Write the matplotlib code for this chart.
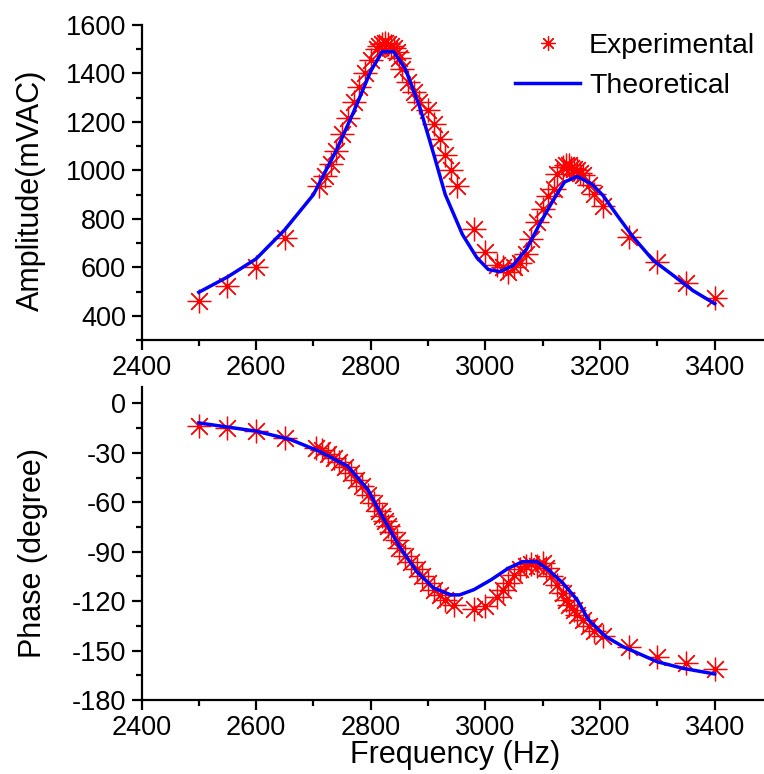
import matplotlib
matplotlib.use("Agg")
import matplotlib.pyplot as plt
from matplotlib.ticker import MultipleLocator, FixedLocator

plt.rcParams['font.family'] = ['Liberation Sans', 'DejaVu Sans']
plt.rcParams['axes.unicode_minus'] = False

# ---------------- data ----------------
amp_freq = [2500, 2550, 2600, 2650, 2710, 2720, 2730, 2740, 2750, 2760, 2770, 2780,
            2790, 2800, 2810, 2815, 2820, 2825, 2830, 2835, 2840, 2845, 2850, 2855,
            2865, 2875, 2885, 2900, 2910, 2920, 2930, 2940, 2950, 2980, 3000, 3020,
            3030, 3040, 3050, 3060, 3070, 3080, 3090, 3100, 3110, 3120, 3125, 3135,
            3140, 3145, 3150, 3155, 3160, 3165, 3170, 3180, 3190, 3205, 3250, 3300,
            3350, 3400]
amp_exp = [460, 521, 600, 720, 935, 975, 1025, 1080, 1152, 1217, 1283, 1345,
           1403, 1455, 1500, 1515, 1522, 1525, 1520, 1515, 1505, 1490, 1462, 1417,
           1365, 1324, 1283, 1248, 1193, 1131, 1064, 1002, 935, 760, 665, 611,
           600, 580, 600, 617, 655, 717, 786, 842, 893, 924, 986, 1014,
           1021, 1021, 1010, 1007, 1000, 990, 979, 938, 904, 851, 727, 621,
           535, 473]

amp_theo_freq = [2500, 2550, 2600, 2650, 2700, 2740, 2770, 2800, 2820, 2840, 2860,
                 2885, 2910, 2930, 2960, 2985, 3005, 3025, 3048, 3072, 3095, 3118,
                 3138, 3160, 3185, 3205, 3230, 3258, 3293, 3328, 3362, 3400]
amp_theo = [497, 560, 635, 755, 900, 1083, 1241, 1410, 1490, 1490, 1420,
            1265, 1065, 900, 735, 640, 591, 582, 607, 676, 780, 876,
            952, 975, 945, 897, 814, 724, 628, 566, 504, 450]

phase_freq = [2500, 2550, 2600, 2650, 2705, 2715, 2725, 2735, 2745, 2755, 2765, 2775,
              2785, 2795, 2805, 2815, 2820, 2825, 2830, 2835, 2845, 2850, 2860, 2870,
              2880, 2890, 2900, 2910, 2920, 2930, 2945, 2980, 3000, 3020, 3030, 3040,
              3050, 3060, 3070, 3080, 3090, 3100, 3105, 3115, 3125, 3135, 3140, 3145,
              3155, 3160, 3170, 3180, 3190, 3205, 3250, 3300, 3350, 3400]
phase_exp = [-13.4, -14.8, -16.8, -20.9, -27.0, -28.4, -30.4, -33.0, -35.7, -38.5, -42.2, -46.2,
             -50.3, -55.3, -60.4, -65.5, -68.5, -71.6, -74.6, -78.3, -82.7, -87.8, -92.5, -96.5,
             -100.5, -105.0, -109.0, -113.0, -116.2, -119.2, -122.5, -124.8, -122.9, -117.6, -113.0, -108.7,
             -104.0, -100.6, -98.5, -97.3, -98.9, -96.9, -99.9, -105.0, -110.0, -115.1, -119.2, -122.3,
             -125.3, -128.3, -131.4, -135.0, -137.9, -141.1, -148.0, -153.7, -157.7, -161.4]

phase_theo_freq = [2500, 2600, 2660, 2710, 2760, 2795, 2820, 2850, 2880, 2910, 2940,
                   2955, 2980, 3010, 3040, 3065, 3090, 3110, 3135, 3160, 3180, 3210,
                   3240, 3300, 3345, 3400]
phase_theo = [-11.8, -16.8, -21.9, -29.0, -38.1, -52.3, -68.5, -86.8, -102.0, -112.1, -116.2,
              -116.2, -113.0, -107.0, -100.0, -96.0, -96.0, -101.0, -109.0, -119.2, -131.4, -141.5,
              -147.6, -156.8, -160.8, -164.2]

x_major = [2400, 2600, 2800, 3000, 3200, 3400]
amp_major = [400, 600, 800, 1000, 1200, 1400, 1600]
phase_major = [0, -30, -60, -90, -120, -150, -180]

# ---------------- figure ----------------
W, H = 764, 774
fig = plt.figure(figsize=(W / 100, H / 100), dpi=100)

x0 = 141.5
x1 = 772.0
ax1 = fig.add_axes([x0 / W, 1 - 340 / H, (x1 - x0) / W, (340 - 25) / H])
ax2 = fig.add_axes([x0 / W, 1 - 700 / H, (x1 - x0) / W, (700 - 387) / H])

marker = (8, 2, 0)
tick_fs = 19.5
label_fs = 22
ms = 17
mew = 0.9

for ax in (ax1, ax2):
    for s in ('top', 'right'):
        ax.spines[s].set_visible(False)
    for s in ('left', 'bottom'):
        ax.spines[s].set_linewidth(1.6)
    ax.set_xlim(2400, 3500)
    ax.xaxis.set_major_locator(FixedLocator(x_major))
    ax.xaxis.set_minor_locator(MultipleLocator(100))
    ax.tick_params(which='major', direction='out', length=7, width=1.6,
                   labelsize=tick_fs, pad=4)
    ax.tick_params(which='minor', direction='out', length=4, width=1.6)

# top panel
ax1.plot(amp_freq, amp_exp, linestyle='none', marker=marker, markersize=ms,
         markeredgewidth=mew, color='#ff0000', label='Experimental', zorder=2)
ax1.plot(amp_theo_freq, amp_theo, color='#0000ff', linewidth=2.5,
         label='Theoretical', zorder=3)
ax1.set_ylim(300, 1600)
ax1.yaxis.set_major_locator(FixedLocator(amp_major))
ax1.yaxis.set_minor_locator(MultipleLocator(100))
ax1.set_ylabel('Amplitude(mVAC)', fontsize=label_fs, va='center')
ax1.yaxis.set_label_coords(-0.175, 0.476)

leg = ax1.legend(loc='upper left', bbox_to_anchor=(515 / W, 1 - 33 / H),
                 bbox_transform=fig.transFigure, frameon=False, fontsize=20.5,
                 handlelength=2.3, handletextpad=0.3, labelspacing=0.5,
                 borderpad=0, borderaxespad=0, markerscale=0.6)

# bottom panel
ax2.plot(phase_freq, phase_exp, linestyle='none', marker=marker, markersize=ms,
         markeredgewidth=mew, color='#ff0000', zorder=2)
ax2.plot(phase_theo_freq, phase_theo, color='#0000ff', linewidth=2.5, zorder=3)
ax2.set_ylim(-180, 10)
ax2.yaxis.set_major_locator(FixedLocator(phase_major))
ax2.yaxis.set_minor_locator(MultipleLocator(15))
ax2.set_ylabel('Phase (degree)', fontsize=label_fs, va='center')
ax2.yaxis.set_label_coords(-0.172, 0.47)
ax2.set_xlabel('Frequency (Hz)', fontsize=label_fs, va='center')
ax2.xaxis.set_label_coords(0.497, -0.176)

fig.savefig('out.png', dpi=100)
